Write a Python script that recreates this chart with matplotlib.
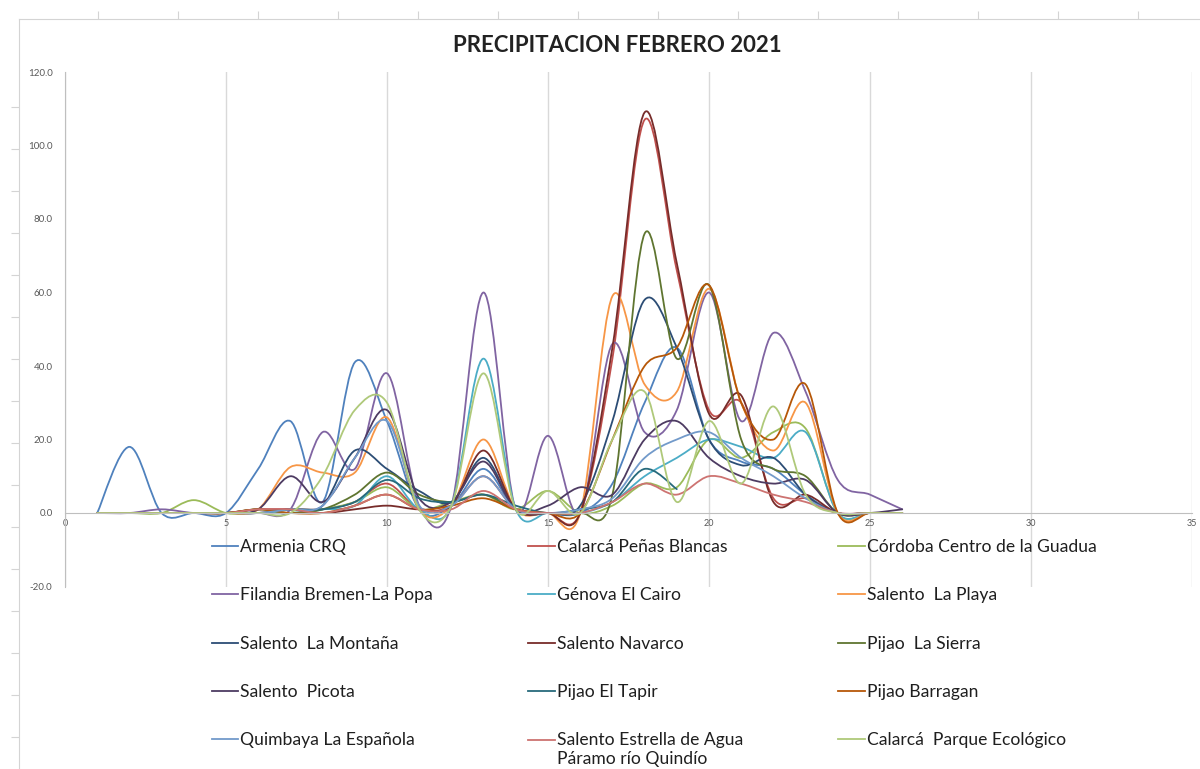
import matplotlib.pyplot as plt
import numpy as np
from matplotlib.path import Path
from matplotlib.patches import PathPatch
from matplotlib.lines import Line2D

plt.rcParams['font.family'] = ['Lato', 'DejaVu Sans']

# daily rainfall (mm), february 2021
days = list(range(1, 27))

armenia = [0, 18, 0, 0, 0, 12, 25, 3, 41, 25, 1, 2, 12, 1, 0, 0, 8, 30, 45, 20, 14, 12, 5, 0, 0, 0]
penas_blancas = [0, 0, 0, 0, 0, 0, 1, 1, 3, 8, 1, 2, 10, 1, 0, 0, 42, 107, 66, 28, 30, 4, 4, 0, 0, 0]
cordoba = [0, 0, 0, 3.5, 0, 0, 0, 1, 3, 7, 1, 3, 5, 1, 6, 0, 2, 8, 7, 20, 15, 22, 23, 0, 0, 0]
filandia = [0, 0, 1, 0, 0, 0, 1, 22, 12, 38, 2, 2, 60, 1, 21, 0, 46, 22, 28, 60, 25, 49, 33, 9, 5, 1]
genova = [0, 0, 0, 0, 0, 0, 0, 1, 2, 10, 1, 2, 42, 1, 0, 0, 3, 10, 15, 20, 18, 15, 22, 0, 0, 0]
la_playa = [0, 0, 0, 0, 0, 1, 12.5, 11, 11, 26, 1, 2, 20, 1, 0, 0, 59, 35, 33, 61, 30, 17, 30, 0, 0, 0]
la_montana = [0, 0, 0, 0, 0, 1, 1, 2, 17, 12, 6, 3, 15, 1, 0, 2, 25, 58, 45, 20, 13, 15, 5, 0, 0, 0]
navarco = [0, 0, 0, 0, 0, 1, 1, 0, 1, 2, 1, 2, 17, 1, 0, 0, 45, 109, 68, 27, 32, 3, 5, 0, 0, 0]
la_sierra = [0, 0, 0, 0, 0, 1, 0, 1, 5, 11, 5, 3, 5, 1, 0, 0, 5, 76, 42, 62, 20, 12, 10, 0, 0, 0]
picota = [0, 0, 0, 0, 0, 1, 10, 3, 15, 28, 4, 3, 14, 1, 2, 7, 5, 20, 25, 15, 10, 8, 9, 0, 0, 1]
el_tapir = [0, 0, 0, 0, 0, 0, 1, 1, 3, 9, 4, 3, 5, 2, 0, 1, 3, 12, 6.5]
barragan = [0, 0, 0, 0, 0, 1, 0, 0, 2, 5, 1, 2, 4, 1, 0, 0, 20, 40, 45, 62, 30, 20, 35, 0, 0, 0]
quimbaya = [0, 0, 0, 0, 0, 0, 1, 2, 15, 25, 2, 2, 10, 1, 0, 1, 4, 15, 20, 22, 15, 10, 4, 0, 0, 0]
estrella = [0, 0, 0, 0, 0, 1, 1, 0, 2, 5, 1, 1, 6, 1, 0, 0, 3, 8, 5, 10, 8, 5, 3, 0, 0, 0]
parque = [0, 0, 0, 0, 0, 0, 0, 10, 28, 30, 1, 2, 38, 1, 6, 0, 20, 33, 3, 25, 8, 29, 5, 0, 0, 0]

stations = ['Armenia CRQ', 'Calarcá Peñas Blancas', 'Córdoba Centro de la Guadua',
            'Filandia Bremen-La Popa', 'Génova El Cairo', 'Salento  La Playa',
            'Salento  La Montaña', 'Salento Navarco', 'Pijao  La Sierra',
            'Salento  Picota', 'Pijao El Tapir', 'Pijao Barragan',
            'Quimbaya La Española', 'Salento Estrella de Agua\nPáramo río Quindío',
            'Calarcá  Parque Ecológico']
series = [armenia, penas_blancas, cordoba, filandia, genova, la_playa, la_montana,
          navarco, la_sierra, picota, el_tapir, barragan, quimbaya, estrella, parque]
colors = ['#4F81BD', '#C0504D', '#9BBB59', '#8064A2', '#4BACC6', '#F79646',
          '#2C4D75', '#772C2A', '#5F7530', '#4D3B62', '#276A7C', '#B65708',
          '#729ACA', '#CD7371', '#AFC97A']

y_ticks = [-20, 0, 20, 40, 60, 80, 100, 120]
x_ticks = [0, 5, 10, 15, 20, 25, 30, 35]


def smooth_path(x, y):
    # excel style smoothed line: bezier segments through the points
    pts = np.column_stack([x, y]).astype(float)
    n = len(pts)
    verts = [pts[0]]
    codes = [Path.MOVETO]
    for i in range(n - 1):
        p0 = pts[max(i - 1, 0)]
        p1 = pts[i]
        p2 = pts[i + 1]
        p3 = pts[min(i + 2, n - 1)]
        verts += [p1 + (p2 - p0) / 6, p2 - (p3 - p1) / 6, p2]
        codes += [Path.CURVE4] * 3
    return Path(verts, codes)


fig = plt.figure(figsize=(12, 7.69), dpi=100)

# spreadsheet border behind the chart
sheet = fig.add_axes([19 / 1200, 0, 1 - 19 / 1200, 1 - 19 / 769])
sheet.set_xlim(19, 1200)
sheet.set_ylim(769, 19)
sheet.patch.set_visible(False)
for s in ['right', 'bottom']:
    sheet.spines[s].set_visible(False)
for s in ['left', 'top']:
    sheet.spines[s].set_color('#D4D4D4')
sheet.xaxis.tick_top()
sheet.set_xticks(range(98, 1200, 80))
sheet.set_yticks(range(107, 769, 42))
sheet.tick_params(length=6, color='#D4D4D4', labeltop=False, labelleft=False)

ax = fig.add_axes([65 / 1200, 1 - 586.5 / 769, 1127 / 1200, (586.5 - 72) / 769])
ax.patch.set_visible(False)
ax.set_xlim(0, 35)
ax.set_ylim(-20, 120)
ax.spines['top'].set_visible(False)
ax.spines['right'].set_visible(False)
ax.spines['bottom'].set_position(('data', 0))
ax.spines['bottom'].set_color('#BFBFBF')
ax.spines['left'].set_color('#BFBFBF')
ax.set_xticks(x_ticks)
ax.set_xticklabels([str(v) for v in x_ticks])
ax.set_yticks(y_ticks)
ax.set_yticklabels([f'{v:.1f}' for v in y_ticks])
ax.tick_params(axis='x', length=0, pad=4, labelsize=6.5, labelcolor='#595959')
ax.tick_params(axis='y', length=0, pad=9, labelsize=7, labelcolor='#595959')
ax.grid(axis='x', color='#D9D9D9', lw=1)
ax.set_axisbelow(True)

handles = []
for name, vals, col in zip(stations, series, colors):
    x = days[:len(vals)]
    ax.add_patch(PathPatch(smooth_path(x, vals), fill=False, edgecolor=col, lw=1.3,
                           capstyle='round', joinstyle='round'))
    handles.append(Line2D([], [], color=col, lw=1.3, label=name))

fig.text(617 / 1200, 1 - 45 / 769, 'PRECIPITACION FEBRERO 2021', ha='center', va='center',
         fontsize=16, fontweight='bold', color='#222222')

# legend is row-major in the original, matplotlib fills columns first
order = [i for c in range(3) for i in range(c, 15, 3)]
leg = fig.legend([handles[i] for i in order], [stations[i] for i in order],
                 loc='upper left', bbox_to_anchor=(212 / 1200, 1 - 539 / 769), ncol=3,
                 frameon=False, fontsize=12.6, borderpad=0, borderaxespad=0,
                 handlelength=1.5, handletextpad=0.12, columnspacing=5.45, labelspacing=1.85,
                 labelcolor='#1F1F1F')

# two-line label: keep its line level with the first text line
for h, t in zip(leg.legend_handles, leg.get_texts()):
    if '\n' in t.get_text():
        h.set_ydata(np.asarray(h.get_ydata()) + 7.5)

fig.savefig('out.png', dpi=100)
